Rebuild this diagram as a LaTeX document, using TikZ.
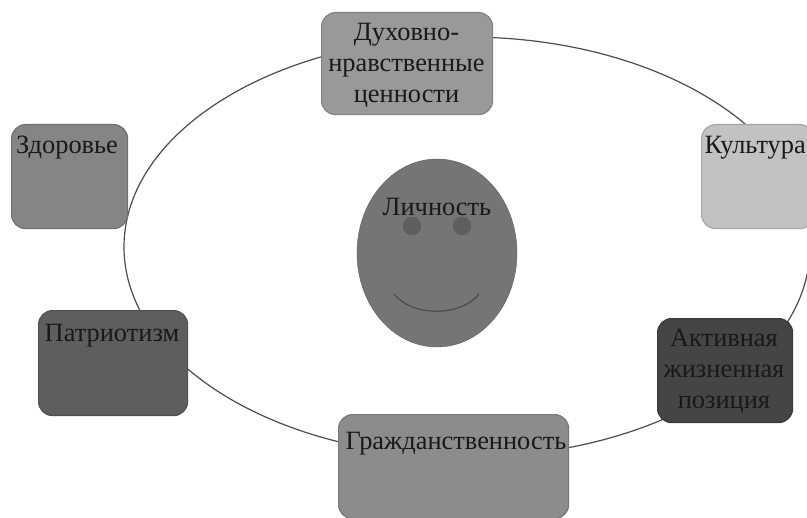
\documentclass[tikz,border=0pt]{standalone}
\usepackage{fontspec}
\setmainfont{Liberation Serif}
\tikzset{
  box/.style={draw=#1!85!black,fill=#1,rounded corners=14bp,line width=1.2bp,inner sep=0pt,anchor=north west,align=center},
  lab/.style={font=\fontsize{26.4bp}{31bp}\selectfont,text=#1,inner sep=0pt,align=center},
  ring/.style={draw=black!70,line width=1.2bp,ellipse,minimum width=686bp,minimum height=420bp,inner sep=0pt},
}
\usetikzlibrary{shapes.geometric}
\definecolor{bA}{gray}{0.60}
\definecolor{bB}{gray}{0.76}
\definecolor{bC}{gray}{0.52}
\definecolor{bD}{gray}{0.37}
\definecolor{bE}{gray}{0.27}
\definecolor{bF}{gray}{0.55}
\definecolor{bG}{gray}{0.46}
\begin{document}
\begin{tikzpicture}[x=1bp,y=-1bp]
\useasboundingbox (0,0) rectangle (807,518);
\node[ring] (ringpath) at (467,247) {};
\node[box=bA,minimum width=171bp,minimum height=102bp] (duh) at (321,12) {};
\node[lab=black!90] at (406.5,65) {Духовно-\\нравственные\\ценности};
\node[box=bB,minimum width=112bp,minimum height=104bp] (kul) at (701,124) {};
\node[lab=black!90,anchor=east] at (806,148) {Культура};
\node[box=bC,minimum width=116bp,minimum height=104bp] (zdo) at (11,124) {};
\node[lab=black!90] at (67,148) {Здоровье};
\node[box=bD,minimum width=149bp,minimum height=105bp] (pat) at (38,310) {};
\node[lab=black!90] at (112,336) {Патриотизм};
\node[box=bE,minimum width=135bp,minimum height=104bp] (akt) at (657,318) {};
\node[lab=black!90] at (724,371) {Активная\\жизненная\\позиция};
\node[box=bF,minimum width=230bp,minimum height=104bp] (gra) at (338,414) {};
\node[lab=black!90] at (456,444) {Гражданственность};
\node[draw=bG!80!black,fill=bG,ellipse,minimum width=160bp,minimum height=188bp,inner sep=0pt] (face) at (437,253) {};
\node[circle,fill=bD,draw=bD,minimum size=18bp,inner sep=0pt] (eyeL) at (412,226) {};
\node[circle,fill=bD,draw=bD,minimum size=18bp,inner sep=0pt] (eyeR) at (462,226) {};
\node[lab=black!90] at (437,207) {Личность};
\coordinate (smileL) at (394,294);
\coordinate (smileR) at (479,294);
\draw[black!70,line width=1.2bp] (smileL) .. controls (412,317) and (461,317) .. (smileR);
\end{tikzpicture}
\end{document}
